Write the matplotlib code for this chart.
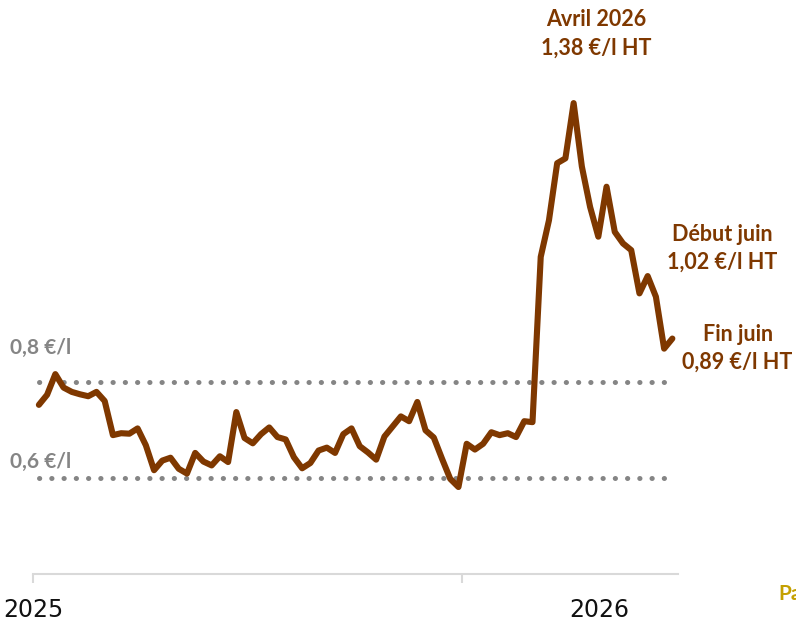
"""
Prix hebdomadaire (€/l HT), janvier 2025 - juin 2026.
"""

import matplotlib
matplotlib.use("Agg")
import matplotlib.pyplot as plt
import matplotlib.dates as mdates
from matplotlib.transforms import ScaledTranslation
import pandas as pd

# Weekly prices, €/l HT
prices = [
    0.752, 0.773, 0.816, 0.788, 0.779, 0.774, 0.770, 0.779, 0.760, 0.689,
    0.693, 0.692, 0.703, 0.668, 0.616, 0.636, 0.642, 0.619, 0.609, 0.652,
    0.634, 0.626, 0.645, 0.633, 0.737, 0.683, 0.672, 0.691, 0.705, 0.685,
    0.680, 0.643, 0.620, 0.631, 0.657, 0.663, 0.652, 0.691, 0.703, 0.666,
    0.653, 0.638, 0.686, 0.707, 0.728, 0.718, 0.758, 0.699, 0.684, 0.640,
    0.598, 0.581, 0.671, 0.659, 0.671, 0.695, 0.689, 0.693, 0.685, 0.718,
    0.716, 1.060, 1.136, 1.255, 1.265, 1.380, 1.248, 1.164, 1.102, 1.206,
    1.112, 1.088, 1.074, 0.984, 1.020, 0.977, 0.869, 0.890,
]
dates = pd.date_range("2025-01-06", periods=len(prices), freq="7D")

ref_levels = [0.8, 0.6]
ref_labels = ["0,8 €/l", "0,6 €/l"]
ref_label_offsets = [24.5, 11.5]  # points above the dotted line
tick_dates = [pd.Timestamp("2025-01-01"), pd.Timestamp("2026-01-01")]
tick_labels = ["2025", "2026"]

# index of annotated points, text, offset in points
notes = [
    (65, "Avril 2026\n1,38 €/l HT", (16, 50)),
    (74, "Début juin\n1,02 €/l HT", (54, 20)),
    (77, "Fin juin\n0,89 €/l HT", (47, -7)),
]

BROWN = "#7f3800"
GREY = "#858585"
LABEL_FONT = ["Lato", "DejaVu Sans"]

fig = plt.figure(figsize=(7.96, 6.21), dpi=100)
ax = fig.add_axes([33 / 796, 47 / 621, 645 / 796, 480.5 / 621])

# dotted reference lines
for lvl, lab, dy in zip(ref_levels, ref_labels, ref_label_offsets):
    ax.plot([dates[0], dates[-1]], [lvl, lvl], color=GREY, lw=3.6,
            linestyle=(0, (0.05, 2.4)), dash_capstyle="round", zorder=1)
    ax.annotate(lab, xy=(-0.036, lvl), xycoords=ax.get_yaxis_transform(),
                xytext=(0, dy), textcoords="offset points",
                ha="left", va="center", fontsize=15, fontweight="bold",
                color=GREY, family=LABEL_FONT, annotation_clip=False)

# price line
ax.plot(dates, prices, color=BROWN, lw=4.4, solid_joinstyle="round",
        solid_capstyle="round", zorder=3)

for idx, txt, off in notes:
    ax.annotate(txt, xy=(dates[idx], prices[idx]), xytext=off,
                textcoords="offset points", ha="center", va="center",
                fontsize=15.5, fontweight="bold", color=BROWN,
                family=LABEL_FONT, linespacing=1.42, annotation_clip=False)

# axes styling
ax.set_ylim(0.4, 1.4)
ax.set_xlim(mdates.date2num(pd.Timestamp("2025-01-01")),
            mdates.date2num(pd.Timestamp("2025-01-01")) + 548.8)
for side in ["top", "right", "left"]:
    ax.spines[side].set_visible(False)
ax.spines["bottom"].set_color("#d9d9d9")
ax.spines["bottom"].set_linewidth(1.5)
ax.set_yticks([])
ax.set_xticks(tick_dates)
ax.set_xticklabels(tick_labels, fontsize=17, family="DejaVu Sans")
ax.tick_params(axis="x", color="#d9d9d9", width=1.5, length=6.5, pad=11,
               labelcolor="#111111")
# the 2026 label sits right of its tick
lbl = ax.get_xticklabels()[1]
lbl.set_transform(lbl.get_transform() + ScaledTranslation(1.37, 0, fig.dpi_scale_trans))

fig.text(778 / 796, 1 - 594 / 621, "Pa", ha="left", va="center",
         fontsize=15, fontweight="bold", color="#c4a000", family=LABEL_FONT)

fig.savefig("out.png", dpi=100)
plt.close(fig)
